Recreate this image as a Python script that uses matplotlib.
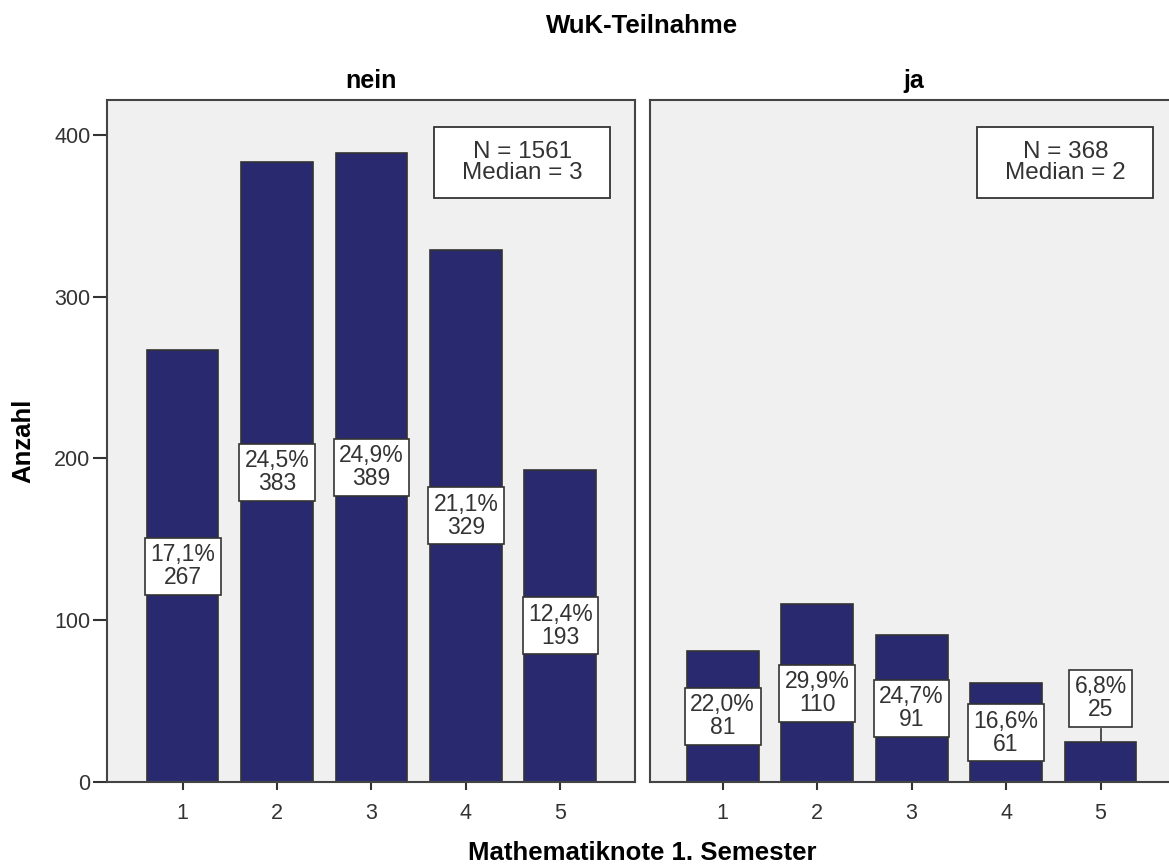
import matplotlib.pyplot as plt
from matplotlib.patches import Rectangle

plt.rcParams['font.family'] = ['Liberation Sans', 'DejaVu Sans']

# Daten
noten = [1, 2, 3, 4, 5]
nein_anzahl = [267, 383, 389, 329, 193]
ja_anzahl = [81, 110, 91, 61, 25]
gruppen = ['nein', 'ja']
mediane = [3, 2]

bar_color = '#29296f'
bg_color = '#f0f0f0'
edge_color = '#333333'

fig = plt.figure(figsize=(11.69, 8.67), dpi=100)

W, H = 1169, 867
ax_w, ax_h = 528, 682
ax1 = fig.add_axes([107 / W, 85 / H, ax_w / W, ax_h / H])
ax2 = fig.add_axes([650 / W, 85 / H, ax_w / W, ax_h / H])

ymax = 421.6
px_per_unit = ax_h / ymax
box_h_units = 61 / px_per_unit

for ax, werte, titel, med, xlim in [(ax1, nein_anzahl, gruppen[0], mediane[0], (0.2, 5.79)),
                                     (ax2, ja_anzahl, gruppen[1], mediane[1], (0.23, 5.82))]:
    ax.set_facecolor(bg_color)
    ax.bar(noten, werte, width=0.76, color=bar_color, edgecolor=edge_color, linewidth=1.2, zorder=2)
    ax.set_xlim(*xlim)
    ax.set_ylim(0, ymax)
    ax.set_xticks(noten)
    ax.set_yticks([0, 100, 200, 300, 400])
    ax.tick_params(axis='x', length=6, width=1.5, color='#333333', pad=9,
                   labelsize=15.5, labelcolor='#333333')
    ax.tick_params(axis='y', length=10, width=1.5, color='#333333', pad=2,
                   labelsize=15.5, labelcolor='#333333')
    for s in ax.spines.values():
        s.set_color('#444444')
        s.set_linewidth(1.5)

    n = sum(werte)
    for x, v in zip(noten, werte):
        pct = f'{100 * v / n:.1f}'.replace('.', ',') + '%'
        if v < box_h_units + 2:
            yc = v + 8 + box_h_units / 2
            ax.plot([x, x], [v, v + 8], color='#333333', lw=1.2, zorder=3)
        else:
            yc = v / 2
        ax.text(x, yc, f'{pct}\n{v}', ha='center', va='center', fontsize=16.5,
                color='#333333', linespacing=1.0, zorder=4,
                bbox=dict(boxstyle='square,pad=0.24', fc='white', ec='#333333', lw=1.2))

    ax.add_patch(Rectangle((0.62, 0.857), 0.333, 0.103, transform=ax.transAxes,
                           facecolor='white', edgecolor='#333333', lw=1.3, zorder=5))
    ax.text(0.787, 0.908, f'N = {n}\nMedian = {med}', transform=ax.transAxes,
            ha='center', va='center', fontsize=17.5, color='#333333',
            linespacing=0.95, zorder=6)

    ax.text(0.5, 1 + 12 / ax_h, titel, transform=ax.transAxes, ha='center',
            va='baseline', fontsize=18, fontweight='bold')

ax2.tick_params(axis='y', left=False, labelleft=False)

fig.text(642 / W, (H - 33) / H, 'WuK-Teilnahme', ha='center', va='baseline',
         fontsize=18.5, fontweight='bold')
fig.text(642 / W, 7 / H, 'Mathematiknote 1. Semester', ha='center', va='baseline',
         fontsize=18.5, fontweight='bold')
fig.text(23 / W, (H - 441) / H, 'Anzahl', ha='center', va='center', rotation=90,
         fontsize=18.5, fontweight='bold')

fig.savefig('out.png', dpi=100)
